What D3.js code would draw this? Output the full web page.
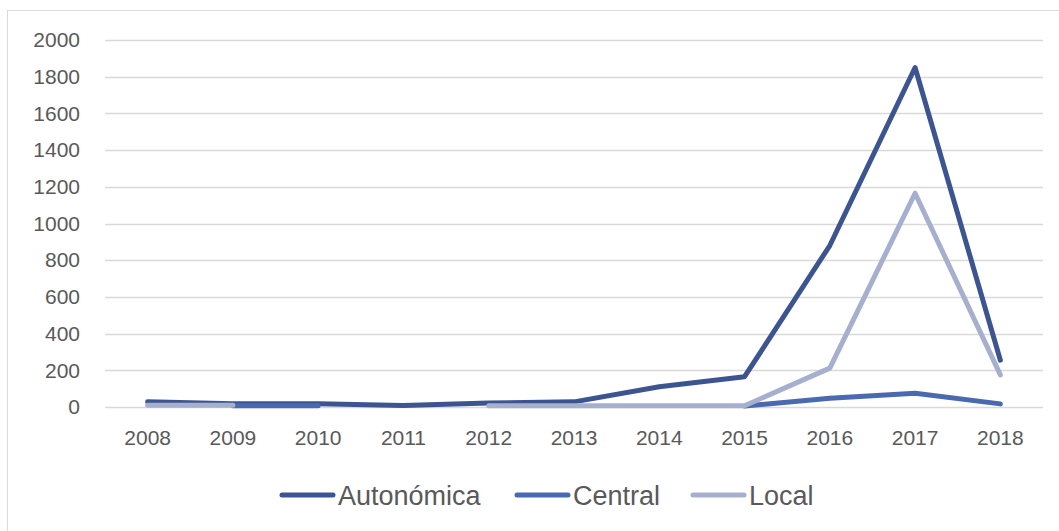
<!DOCTYPE html>
<html>
<head>
<meta charset="utf-8">
<script src="https://cdn.jsdelivr.net/npm/d3@7"></script>
<style>
  html, body { margin: 0; padding: 0; background: #fff; }
  svg { display: block; }
</style>
</head>
<body>
<svg id="chart" width="1059" height="531"></svg>
<script>
const years = ["2008","2009","2010","2011","2012","2013","2014","2015","2016","2017","2018"];
const autonomica = [28, 18, 18, 8, 22, 28, 110, 165, 880, 1850, 255];
const central    = [null, 7, 7, null, null, null, null, 5, 48, 75, 17];
const local      = [9, 9, null, null, 7, 7, 7, 7, 212, 1165, 175];
const yTicks = [0, 200, 400, 600, 800, 1000, 1200, 1400, 1600, 1800, 2000];
const seriesNames = ["Autonómica", "Central", "Local"];
const seriesColors = ["#3C5590", "#4A6AAF", "#A7AFCF"];

(function () {
const svg = d3.select("#chart");
const W = 1059, H = 531;
const font = "'Liberation Sans', Arial, sans-serif";

// outer frame
svg.append("rect").attr("x", 7.5).attr("y", 10.5).attr("width", W - 7.5 + 5).attr("height", H - 10.5 + 5)
  .attr("fill", "none").attr("stroke", "#d9d9d9").attr("stroke-width", 1);

const pl = 105, pr = 1043, pt = 40, pb = 407;
const x = d3.scaleBand().domain(years).range([pl, pr]);
const y = d3.scaleLinear().domain([0, 2000]).range([pb, pt]);

// gridlines
svg.append("g").selectAll("line").data(yTicks).join("line")
  .attr("x1", pl).attr("x2", pr)
  .attr("y1", d => Math.round(y(d)) + 0.5).attr("y2", d => Math.round(y(d)) + 0.5)
  .attr("stroke", "#d9d9d9").attr("stroke-width", 1.3);

// y axis labels
const yAxis = d3.axisLeft(y).tickValues(yTicks).tickSize(0).tickPadding(0).tickFormat(d3.format("d"));
const gy = svg.append("g").attr("transform", `translate(80,0)`).call(yAxis);
gy.select(".domain").remove();
gy.selectAll("text").attr("fill", "#595959").style("font-family", font).style("font-size", "21px");

// x axis labels
const xAxis = d3.axisBottom(x).tickSize(0).tickPadding(0);
const gx = svg.append("g").attr("transform", `translate(0,${pb + 23})`).call(xAxis);
gx.select(".domain").remove();
gx.selectAll("text").attr("fill", "#595959").style("font-family", font).style("font-size", "21px");

// lines
const allSeries = [autonomica, central, local];
const line = d3.line()
  .defined(d => d != null)
  .x((d, i) => x(years[i]) + x.bandwidth() / 2)
  .y(d => y(d));

allSeries.forEach((vals, k) => {
  svg.append("path")
    .datum(vals)
    .attr("fill", "none")
    .attr("stroke", seriesColors[k])
    .attr("stroke-width", 5)
    .attr("stroke-linecap", "round")
    .attr("stroke-linejoin", "round")
    .attr("d", line);
});

// legend
const legendItems = [
  { name: seriesNames[0], color: seriesColors[0], x: 280 },
  { name: seriesNames[1], color: seriesColors[1], x: 515 },
  { name: seriesNames[2], color: seriesColors[2], x: 691 }
];
const lg = svg.append("g");
legendItems.forEach(it => {
  lg.append("line").attr("x1", it.x + 2).attr("x2", it.x + 53).attr("y1", 495).attr("y2", 495)
    .attr("stroke", it.color).attr("stroke-width", 5).attr("stroke-linecap", "round");
  lg.append("text").attr("x", it.x + 58).attr("y", 495).attr("dy", "0.36em")
    .attr("fill", "#595959").style("font-family", font).style("font-size", "27px")
    .text(it.name);
});
})();
</script>
</body>
</html>
